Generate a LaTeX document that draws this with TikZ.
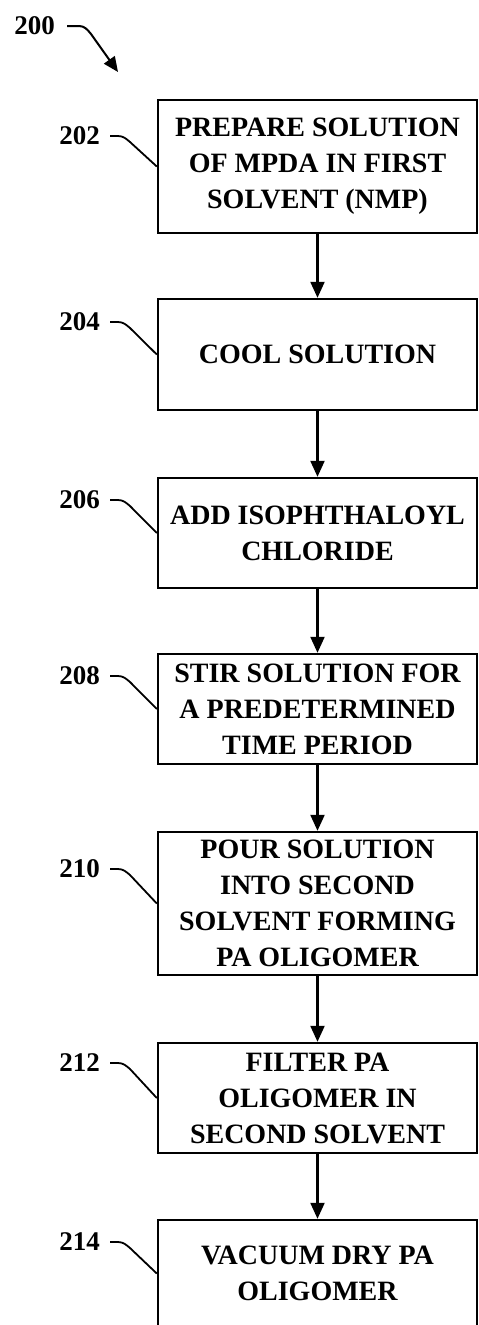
\documentclass[tikz,border=0pt]{standalone}
\usepackage{fontspec}
\setmainfont{Liberation Serif}
\usetikzlibrary{arrows.meta}

\begin{document}
\begin{tikzpicture}[x=1pt,y=-1pt,
            stepbox/.style={draw,line width=2.4pt,minimum width=319pt,align=center,inner sep=0pt,
                font=\fontsize{28}{36}\selectfont\bfseries},
            refnum/.style={anchor=east,inner sep=0pt,font=\fontsize{27}{30}\selectfont\bfseries},
            flow/.style={line width=2.2pt,-{Triangle[length=16pt,width=14pt]}},
            lead/.style={line width=1.8pt},
        ]
    \useasboundingbox (0,0) rectangle (479,1325);

    \node[refnum] (r200) at (55,26) {200};
    \coordinate (t200) at (118,72);
    \draw[line width=2pt,-{Triangle[length=15pt,width=13pt]}] ([xshift=12pt]r200.east) -- ++(12,0) to[out=0,in=130] ++(12,8) -- (t200);

    \node[stepbox,minimum height=133pt] (b202) at (317.5,166.5) {PREPARE SOLUTION\\OF MPDA IN FIRST\\SOLVENT (NMP)};
    \node[refnum] (r202) at (100,136) {202};
    \draw[lead] ([xshift=10pt]r202.east) -- ++(8,0) to[out=0,in=140] ++(12,6) -- (b202.west);

    \node[stepbox,minimum height=111pt] (b204) at (317.5,354.5) {COOL SOLUTION};
    \node[refnum] (r204) at (100,322) {204};
    \draw[lead] ([xshift=10pt]r204.east) -- ++(8,0) to[out=0,in=140] ++(12,6) -- (b204.west);
    \draw[flow] (b202) -- (b204);

    \node[stepbox,minimum height=110pt] (b206) at (317.5,533) {ADD ISOPHTHALOYL\\CHLORIDE};
    \node[refnum] (r206) at (100,500) {206};
    \draw[lead] ([xshift=10pt]r206.east) -- ++(8,0) to[out=0,in=140] ++(12,6) -- (b206.west);
    \draw[flow] (b204) -- (b206);

    \node[stepbox,minimum height=110pt] (b208) at (317.5,709) {STIR SOLUTION FOR\\A PREDETERMINED\\TIME PERIOD};
    \node[refnum] (r208) at (100,676) {208};
    \draw[lead] ([xshift=10pt]r208.east) -- ++(8,0) to[out=0,in=140] ++(12,6) -- (b208.west);
    \draw[flow] (b206) -- (b208);

    \node[stepbox,minimum height=143pt] (b210) at (317.5,903.5) {POUR SOLUTION\\INTO SECOND\\SOLVENT FORMING\\PA OLIGOMER};
    \node[refnum] (r210) at (100,869) {210};
    \draw[lead] ([xshift=10pt]r210.east) -- ++(8,0) to[out=0,in=140] ++(12,6) -- (b210.west);
    \draw[flow] (b208) -- (b210);

    \node[stepbox,minimum height=110pt] (b212) at (317.5,1098) {FILTER PA\\OLIGOMER IN\\SECOND SOLVENT};
    \node[refnum] (r212) at (100,1063) {212};
    \draw[lead] ([xshift=10pt]r212.east) -- ++(8,0) to[out=0,in=140] ++(12,6) -- (b212.west);
    \draw[flow] (b210) -- (b212);

    \node[stepbox,minimum height=107pt] (b214) at (317.5,1273.5) {VACUUM DRY PA\\OLIGOMER};
    \node[refnum] (r214) at (100,1242) {214};
    \draw[lead] ([xshift=10pt]r214.east) -- ++(8,0) to[out=0,in=140] ++(12,6) -- (b214.west);
    \draw[flow] (b212) -- (b214);
\end{tikzpicture}
\end{document}
